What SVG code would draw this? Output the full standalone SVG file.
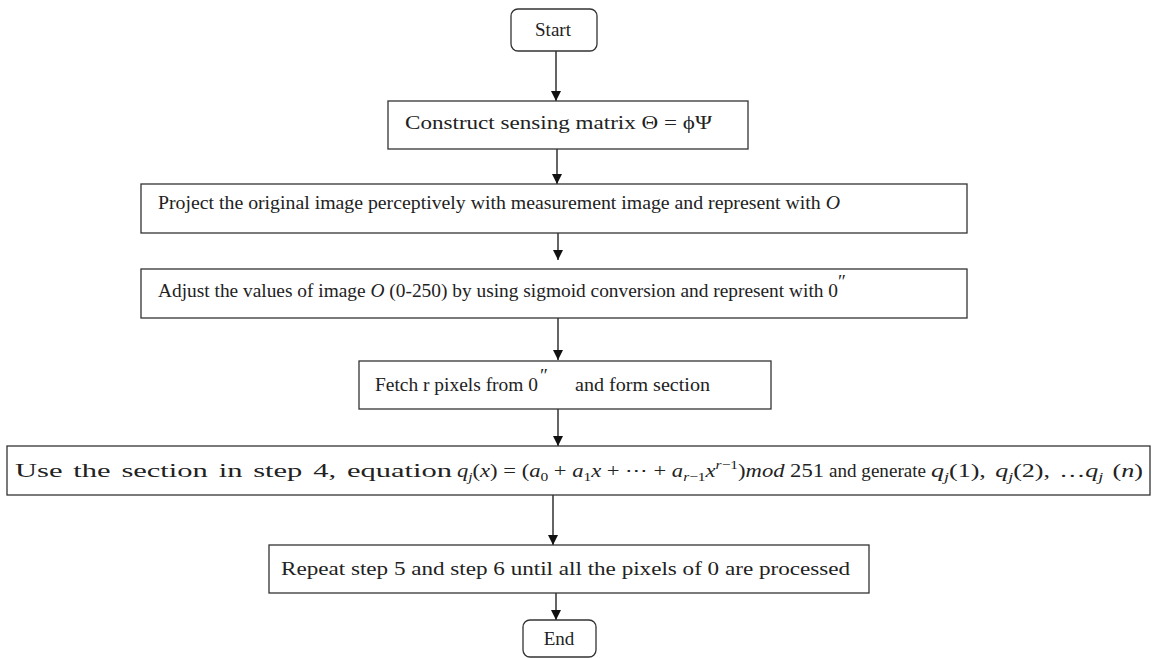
<svg xmlns="http://www.w3.org/2000/svg" width="1157" height="658" viewBox="0 0 1157 658">
<style>
.box{fill:#fff;stroke:#333;stroke-width:1.3}
.t{font-family:"Liberation Serif",serif;font-size:19px;fill:#222}
.m{font-style:italic}
.c{stroke:#111;stroke-width:1.3;fill:none}
</style>
<defs>
<marker id="ah" viewBox="0 0 10 10" refX="10" refY="5" markerWidth="10" markerHeight="10" markerUnits="userSpaceOnUse" orient="auto">
<path d="M0,0 L10,5 L0,10 z" fill="#111"/>
</marker>
</defs>
<rect width="1157" height="658" fill="#fff"/>
<g id="connectors">
<line class="c" x1="556" y1="51" x2="556" y2="101" marker-end="url(#ah)"/>
<line class="c" x1="557" y1="149" x2="557" y2="184" marker-end="url(#ah)"/>
<line class="c" x1="558" y1="228" x2="558" y2="260" marker-end="url(#ah)"/>
<line class="c" x1="558" y1="318" x2="558" y2="360" marker-end="url(#ah)"/>
<line class="c" x1="558" y1="409" x2="558" y2="446" marker-end="url(#ah)"/>
<line class="c" x1="553" y1="495" x2="553" y2="545" marker-end="url(#ah)"/>
<line class="c" x1="556" y1="593" x2="556" y2="620" marker-end="url(#ah)"/>
</g>
<g id="start">
<rect class="box" x="511" y="9" width="86" height="42" rx="7"/>
<text class="t" x="553" y="36" text-anchor="middle" font-size="18">Start</text>
</g>
<g id="step1">
<rect class="box" x="388" y="101" width="360" height="48"/>
<text class="t" x="405" y="129" textLength="307" lengthAdjust="spacingAndGlyphs">Construct sensing matrix Θ = ϕΨ</text>
</g>
<g id="step2">
<rect class="box" x="141" y="184" width="826" height="49"/>
<text class="t" x="158" y="209" textLength="682" lengthAdjust="spacingAndGlyphs">Project the original image perceptively with measurement image and represent with <tspan class="m">O</tspan></text>
</g>
<g id="step3">
<rect class="box" x="141" y="269" width="826" height="49"/>
<text class="t" x="158" y="297" textLength="680" lengthAdjust="spacingAndGlyphs">Adjust the values of image <tspan class="m">O</tspan> (0-250) by using sigmoid conversion and represent with 0</text>
<text class="t" x="838" y="288" font-size="13">″</text>
</g>
<g id="step4">
<rect class="box" x="359" y="361" width="412" height="48"/>
<text class="t" x="375" y="391" textLength="163" lengthAdjust="spacingAndGlyphs">Fetch r pixels from 0</text>
<text class="t" x="540" y="382" font-size="13">″</text>
<text class="t" x="575" y="391" textLength="135" lengthAdjust="spacingAndGlyphs">and form section</text>
</g>
<g id="step5">
<rect class="box" x="7" y="446" width="1143" height="49"/>
<text class="t" x="15" y="477" font-size="21" word-spacing="2" textLength="437" lengthAdjust="spacingAndGlyphs">Use the section in step 4, equation</text>
<text class="t" x="457" y="477" font-size="20" textLength="367" lengthAdjust="spacingAndGlyphs"><tspan class="m">q</tspan><tspan class="m" font-size="13" dy="4">j</tspan><tspan dy="-4">(</tspan><tspan class="m">x</tspan>) = (<tspan class="m">a</tspan><tspan font-size="13" dy="4">0</tspan><tspan dy="-4"> + </tspan><tspan class="m">a</tspan><tspan font-size="13" dy="4">1</tspan><tspan class="m" dy="-4">x</tspan> + ⋯ + <tspan class="m">a</tspan><tspan class="m" font-size="13" dy="4">r</tspan><tspan font-size="13">−1</tspan><tspan class="m" dy="-4">x</tspan><tspan class="m" font-size="13" dy="-8">r</tspan><tspan font-size="13">−1</tspan><tspan dy="8">)</tspan><tspan class="m">mod</tspan> 251</text>
<text class="t" x="829" y="477" font-size="20" textLength="97" lengthAdjust="spacingAndGlyphs">and generate</text>
<text class="t" x="931" y="477" font-size="20" word-spacing="2" textLength="212" lengthAdjust="spacingAndGlyphs"><tspan class="m">q</tspan><tspan class="m" font-size="13" dy="4">j</tspan><tspan dy="-4">(1), </tspan><tspan class="m">q</tspan><tspan class="m" font-size="13" dy="4">j</tspan><tspan dy="-4">(2), …</tspan><tspan class="m">q</tspan><tspan class="m" font-size="13" dy="4">j</tspan><tspan dy="-4">  (</tspan><tspan class="m">n</tspan>)</text>
</g>
<g id="step6">
<rect class="box" x="269" y="545" width="600" height="48"/>
<text class="t" x="281" y="575" font-size="20" textLength="569" lengthAdjust="spacingAndGlyphs">Repeat step 5 and step 6 until all the pixels of 0 are processed</text>
</g>
<g id="end">
<rect class="box" x="523" y="620" width="73" height="37" rx="7"/>
<text class="t" x="559" y="645" text-anchor="middle" font-size="18">End</text>
</g>
</svg>
